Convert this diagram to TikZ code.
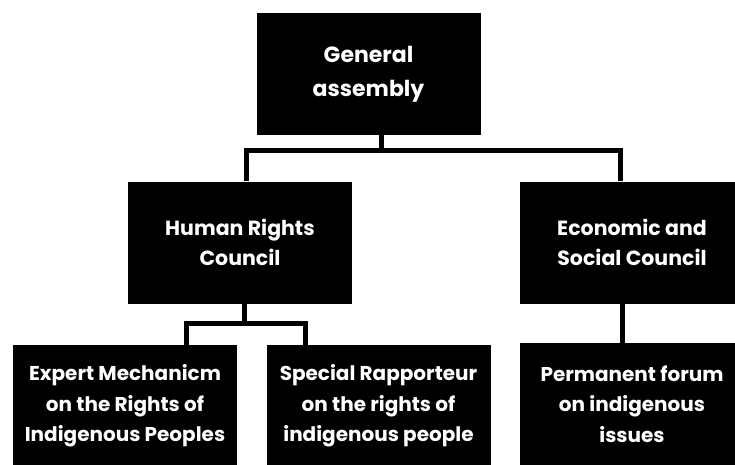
\documentclass[tikz,border=0pt]{standalone}
\usepackage{fontspec}
\setmainfont{Poppins}
\usepackage{tikz}

\begin{document}
\begin{tikzpicture}[
  x=1pt, y=-1pt,
  box/.style={rectangle, fill=black, text=white, align=center, inner sep=0pt, minimum width=224pt, minimum height=122pt, font=\bfseries\fontsize{20.5}{30}\selectfont},
  head/.style={box, font=\bfseries\fontsize{22}{34}\selectfont},
  leaf/.style={box, font=\bfseries\fontsize{20}{30.5}\selectfont},
  link/.style={line width=5pt, draw=black}
]
\clip (0,0) rectangle (735,465);
\fill[white] (0,0) rectangle (735,465);

\node[head] (ga) at (368.5,74) {General\\assembly};
\node[box] (hrc) at (240,242.5) {Human Rights\\Council};
\node[box] (ecosoc) at (632,242.5) {Economic and\\Social Council};
\node[leaf] (expert) at (125,406) {Expert Mechanicm\\on the Rights of\\Indigenous Peoples};
\node[leaf] (special) at (378.5,406) {Special Rapporteur\\on the rights of\\indigenous people};
\node[leaf] (perm) at (632,404) {Permanent forum\\on indigenous\\issues};

\draw[link] ([xshift=12.5pt]ga.south) -- ++(0,15) coordinate (ga-j);
\draw[link] ([xshift=6pt]hrc.north) |- (ga-j) -| ([xshift=-12pt]ecosoc.north);

\draw[link] ([xshift=4pt]hrc.south) -- ++(0,20) coordinate (hrc-j);
\draw[link] ([xshift=61pt]expert.north) |- (hrc-j) -| ([xshift=-73.5pt]special.north);

\draw[link] ([xshift=-10pt]ecosoc.south) -- ([xshift=-10pt]perm.north);

\end{tikzpicture}
\end{document}
